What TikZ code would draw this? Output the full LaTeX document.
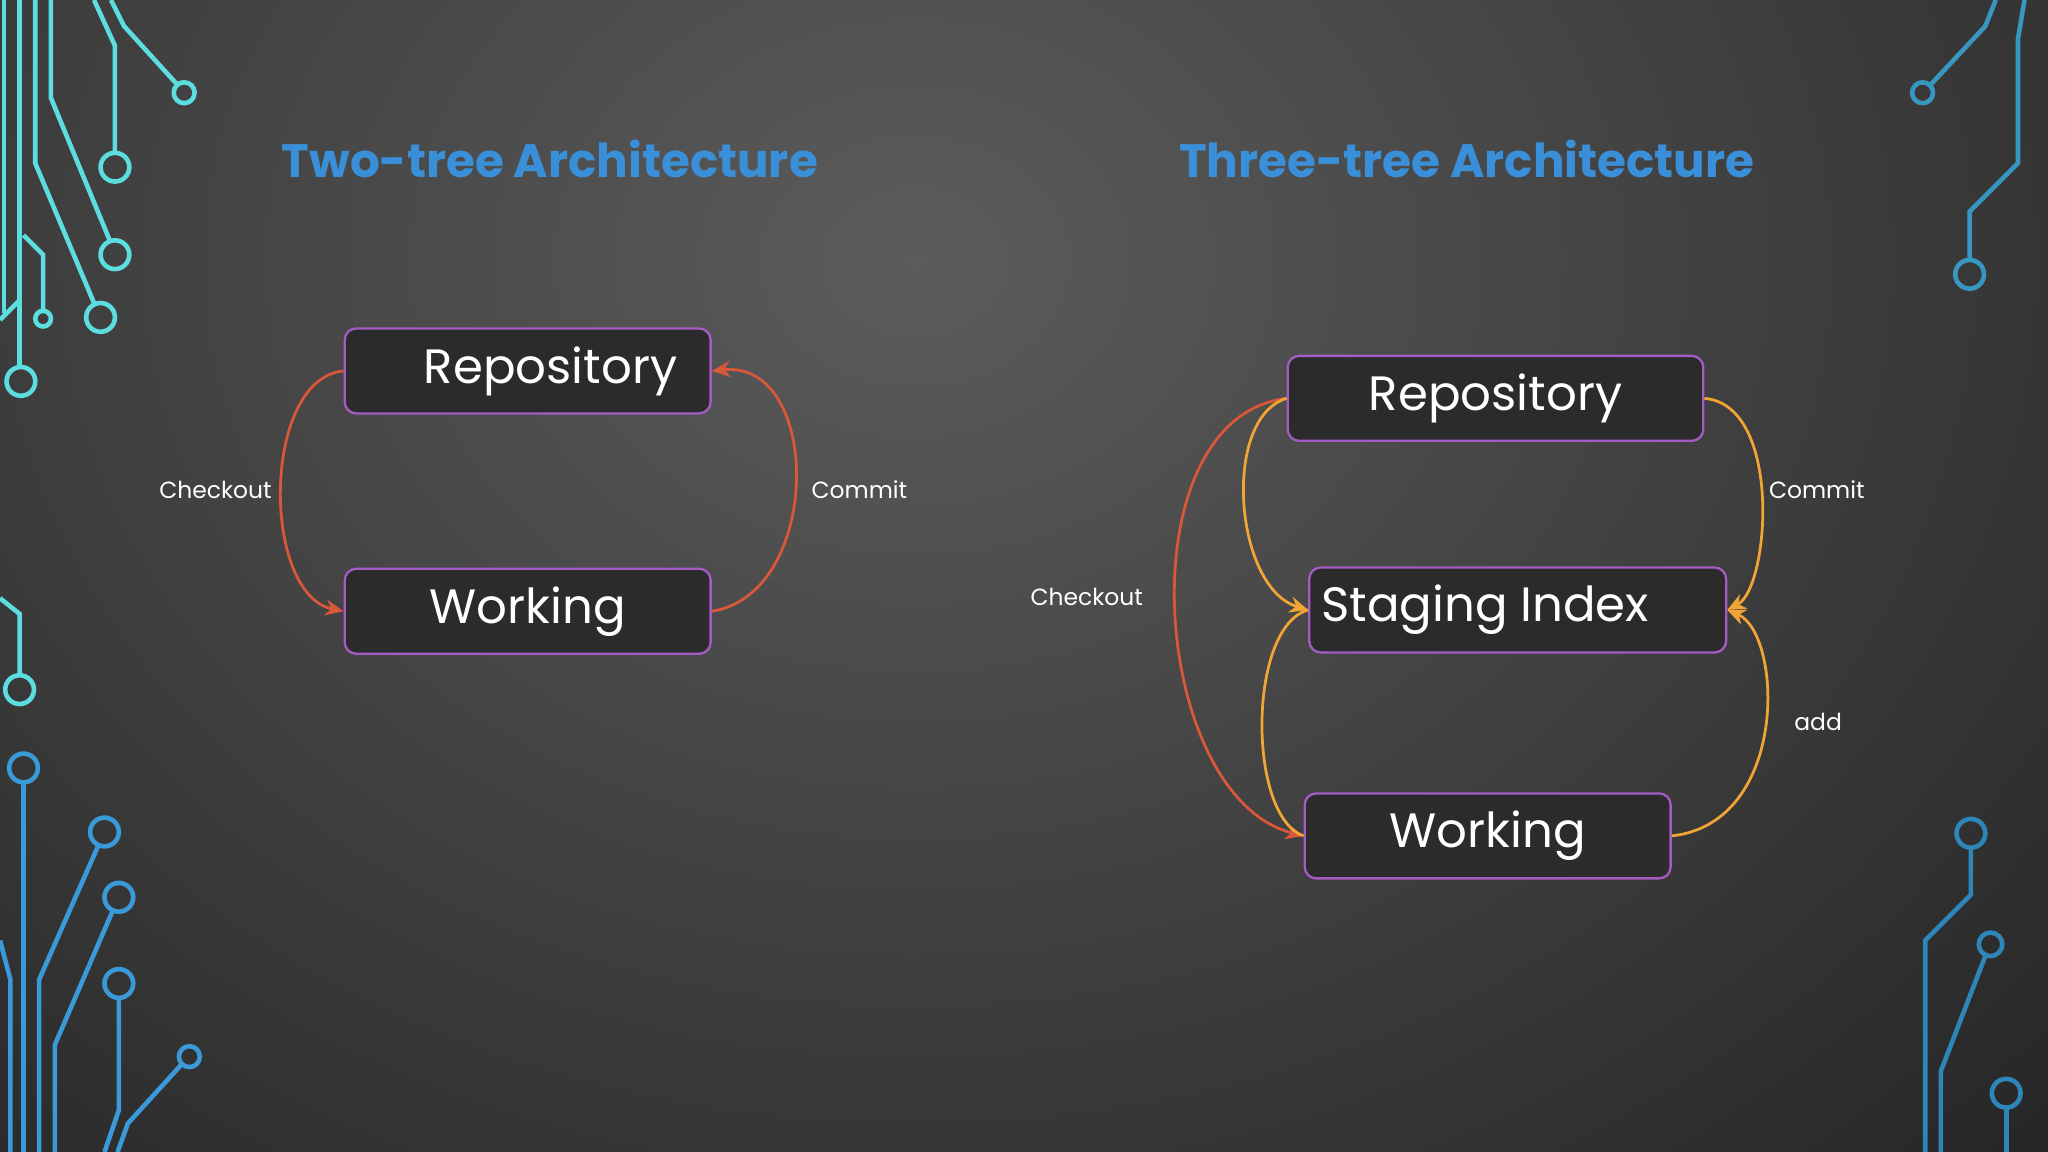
\documentclass[tikz,border=0pt]{standalone}
\usepackage{fontspec}
\setmainfont{Poppins}
\usetikzlibrary{arrows.meta}
\definecolor{ttl}{HTML}{3A8FD9}
\definecolor{bx}{HTML}{2B2B2B}
\definecolor{bd}{HTML}{A45CC4}
\definecolor{red1}{HTML}{D9573A}
\definecolor{yel}{HTML}{F0A535}
\definecolor{cy}{HTML}{5CDDE0}
\definecolor{bl}{HTML}{3A9AD9}
\definecolor{bl2}{HTML}{2E86B8}
\tikzset{
 box/.style={draw=bd,fill=bx,rounded corners=2.5pt,line width=0.5pt,minimum width=2.8cm,minimum height=0.65cm,text=white,font=\fontsize{10.5}{12}\selectfont,inner sep=0pt},
 ttlst/.style={text=ttl,font=\bfseries\fontsize{10.2}{12}\selectfont},
 lab/.style={text=white,font=\fontsize{5.1}{7}\selectfont},
 arr/.style={line width=0.6pt,-{Stealth[length=4pt,width=3.5pt]}},
 circ/.style={line width=1pt}
}
\begin{document}
\begin{tikzpicture}[x=0.01cm,y=-0.01cm]
\useasboundingbox (0,0) rectangle (1568,882);
\shade[inner color=black!64,outer color=black!92] (-900,-1100) rectangle (2300,1500);
% circuits
\begin{scope}[circ,draw=cy]
\draw (15,0)--(15,281); \draw (16,292) circle (11);
\draw (27,0)--(27,125)--(72,232); \draw (77,243) circle (11);
\draw (39,0)--(39,75)--(84,184); \draw (88,195) circle (11);
\draw (72,0)--(88,35)--(88,117); \draw (88,128) circle (11);
\draw (85,0)--(95,20)--(135,64); \draw (141,71) circle (8);
\draw (18,180)--(33,195)--(33,238); \draw (33,244) circle (6);
\draw (3,0)--(3,240); \draw (0,245)--(15,230);
\draw (0,458)--(15,470)--(15,517); \draw (15,528) circle (11);
\end{scope}
\begin{scope}[circ,draw=bl]
\draw (18,599)--(18,882); \draw (18,588) circle (11);
\draw (0,720)--(8,750)--(8,882);
\draw (30,882)--(30,750)--(75,648); \draw (80,637) circle (11);
\draw (42,882)--(42,800)--(86,698); \draw (91,687) circle (11);
\draw (80,882)--(91,850)--(91,764); \draw (91,753) circle (11);
\draw (90,882)--(98,860)--(139,815); \draw (145,809) circle (8);
\end{scope}
\begin{scope}[circ,draw=bl2!80!cy]
\draw (1528,0)--(1520,20)--(1478,65); \draw (1472,71) circle (8);
\draw (1550,0)--(1545,30)--(1545,125)--(1508,162)--(1508,199); \draw (1508,210) circle (11);
\end{scope}
\begin{scope}[circ,draw=bl2]
\draw (1509,649)--(1509,685)--(1474,720)--(1474,882); \draw (1509,638) circle (11);
\draw (1520,732)--(1486,820)--(1486,882); \draw (1524,723) circle (9);
\draw (1536,848)--(1536,882); \draw (1536,837) circle (11);
\end{scope}
% titles
\node[ttlst] (t1) at (421,122) {Two-tree Architecture};
\node[ttlst] (t2) at (1123,122) {Three-tree Architecture};
% left
\node[box] (r1) at (404,284) {\hspace*{0.35cm}Repository};
\node[box] (w1) at (404,468) {Working};
\draw[arr,red1] (r1.west) .. controls (200,290) and (200,455) .. (w1.west);
\draw[arr,red1] (w1.east) .. controls (630,455) and (630,275) .. (r1.east);
\node[lab] (c1) at (165,375) {Checkout};
\node[lab] (m1) at (658,375) {Commit};
% right
\node[box,minimum width=3.18cm] (r2) at (1145,305) {Repository};
\node[box,minimum width=3.19cm] (s2) at (1162,467) {Staging Index\hspace*{0.5cm}};
\node[box] (w2) at (1139,640) {Working};
\draw[arr,red1] (r2.west) .. controls (860,320) and (880,610) .. (w2.west);
\draw[arr,yel] (r2.west) .. controls (935,320) and (945,450) .. (s2.west);
\draw[line width=0.6pt,yel] (s2.west) .. controls (955,480) and (955,625) .. (w2.west);
\draw[arr,yel] (r2.east) .. controls (1365,310) and (1355,450) .. (s2.east);
\draw[arr,yel] (w2.east) .. controls (1370,630) and (1365,485) .. (s2.east);
\node[lab] (c2) at (832,457) {Checkout};
\node[lab] (m2) at (1391,375) {Commit};
\node[lab] (a2) at (1392,553) {add};
\end{tikzpicture}
\end{document}
